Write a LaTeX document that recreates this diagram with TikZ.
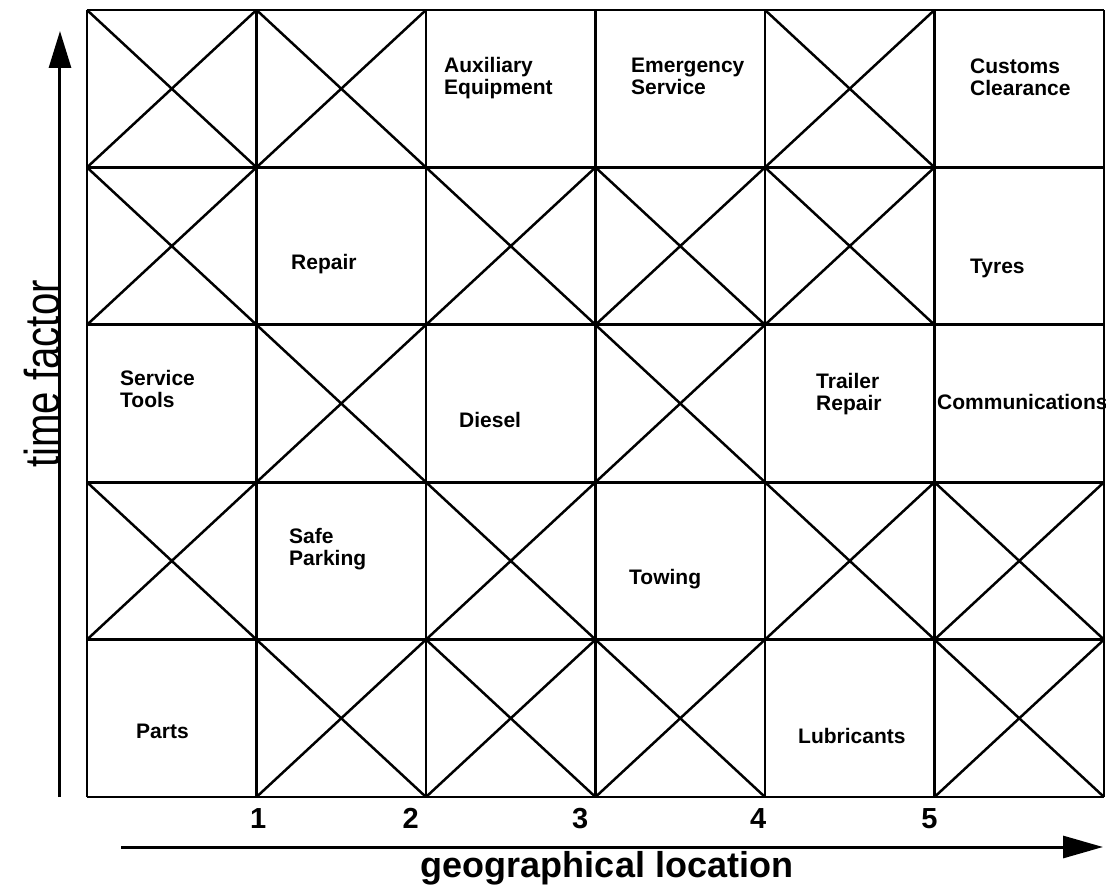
\documentclass[tikz,border=0pt]{standalone}
\usepackage{fontspec}
\setmainfont{Liberation Sans}
\newfontfamily\narrowfont[FakeStretch=0.82]{Liberation Sans}
\usetikzlibrary{arrows.meta}

\begin{document}
\begin{tikzpicture}[x=169.5pt,y=157.4pt,line join=round,
    cell/.style={font=\bfseries\fontsize{21}{22}\selectfont,
                 align=left,anchor=north west,inner sep=0pt},
    tick/.style={font=\bfseries\fontsize{29}{29}\selectfont,
                 anchor=base,inner sep=0pt}]
  \useasboundingbox (-0.51327,-0.55273) rectangle (6.01180,5.06353);
  \draw[line width=2.7pt](0,0) grid[step=1] (6,5);
  % cells that are crossed out (column/row from bottom left)
  \foreach \c/\r in {0/4,1/4,4/4, 0/3,2/3,3/3,4/3, 1/2,3/2,
                     0/1,2/1,4/1,5/1, 1/0,2/0,3/0,5/0}
    \draw[line width=2.5pt](\c,\r)--++(1,1) (\c,\r+1)--++(1,-1);
  % services
  \node[cell] (aux)  at (2.1062,4.7033){Auxiliary\\Equipment};
  \node[cell] (emer) at (3.2094,4.6932){Emergency\\Service};
  \node[cell] (cust) at (5.2094,4.6932){Customs\\Clearance};
  \node[cell] (rep)  at (1.2035,3.4466){Repair};
  \node[cell] (tyre) at (5.2094,3.4212){Tyres};
  \node[cell] (tool) at (0.1947,2.7128){Service\\Tools};
  \node[cell] (dies) at (2.1947,2.4428){Diesel};
  \node[cell] (trail) at (4.3009,2.6938){Trailer\\Repair};
  \node[cell] (comm) at (5.0147,2.5572){Communications};
  \node[cell] (park) at (1.1917,1.7090){Safe\\Parking};
  \node[cell] (tow)  at (3.1976,1.4485){Towing};
  \node[cell] (part) at (0.2891,0.4638){Parts};
  \node[cell] (lub)  at (4.1947,0.4365){Lubricants};
  % axes
  \coordinate (yfoot) at (-0.1593,0);
  \coordinate (ytip)  at (-0.1593,4.8666);
  \coordinate (xfoot) at (0.2006,-0.3177);
  \coordinate (xtip)  at (5.9941,-0.3177);
  \draw[line width=3pt,-{Triangle[length=37pt,width=22pt]}](yfoot)--(ytip);
  \draw[line width=3pt,-{Triangle[length=40pt,width=22pt]}](xfoot)--(xtip);
  \node[tick] (t1) at (1.01,-0.2033){1};
  \node[tick] (t2) at (1.91,-0.2033){2};
  \node[tick] (t3) at (2.91,-0.2033){3};
  \node[tick] (t4) at (3.96,-0.2033){4};
  \node[tick] (t5) at (4.97,-0.2033){5};
  \node[font=\bfseries\fontsize{36}{36}\selectfont,anchor=base,inner sep=0pt]
    (geo) at (3.0678,-0.5146){geographical location};
  \node[font=\narrowfont\fontsize{49}{49}\selectfont,rotate=90,anchor=base,
        inner sep=0pt] (time) at (-0.165,2.6874){time factor};
\end{tikzpicture}
\end{document}
